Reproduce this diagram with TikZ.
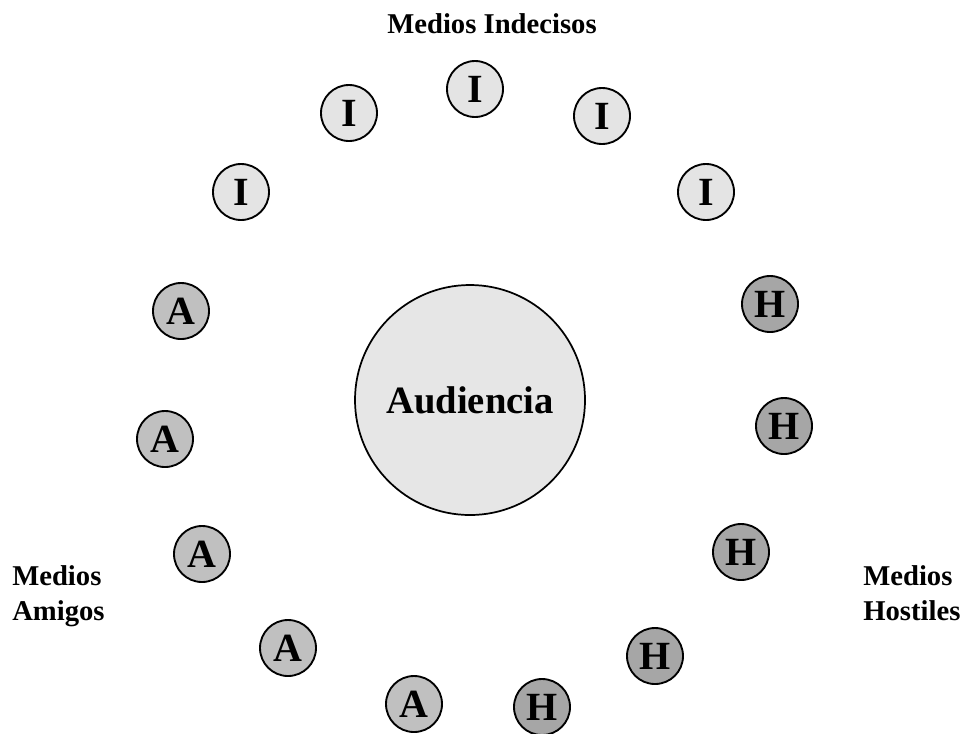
\documentclass[tikz,border=0pt]{standalone}
\usepackage{fontspec}
\setmainfont{Liberation Serif}
\definecolor{indecfill}{HTML}{E4E4E4}
\definecolor{amigfill}{HTML}{C0C0C0}
\definecolor{hostfill}{HTML}{A6A6A6}
\definecolor{audfill}{HTML}{E6E6E6}
\tikzset{
  medio/.style={circle, draw=black, line width=1.4pt, minimum size=42pt, inner sep=0pt,
    font=\fontsize{30}{30}\selectfont\bfseries},
  indec/.style={medio, fill=indecfill},
  amig/.style={medio, fill=amigfill},
  host/.style={medio, fill=hostfill},
  audbox/.style={circle, draw=black, line width=1.3pt, minimum size=172.5pt, inner sep=0pt,
    fill=audfill, font=\fontsize{29}{29}\selectfont\bfseries},
  grouplabel/.style={inner sep=0pt, align=left, font=\fontsize{21.5}{26.25}\selectfont\bfseries}
}
\begin{document}
\begin{tikzpicture}[x=0.75pt,y=-0.75pt]
\useasboundingbox (0,0) rectangle (966,733);
% central audience
\node[audbox] (aud) at (470,400) {Audiencia};
% undecided media
\node[indec] (i0) at (475,89) {I};
\node[indec] (i1) at (349,113) {I};
\node[indec] (i2) at (602,116) {I};
\node[indec] (i3) at (241,192) {I};
\node[indec] (i4) at (706,192) {I};
% friendly media
\node[amig] (a1) at (181,311) {A};
\node[amig] (a2) at (165,439) {A};
\node[amig] (a3) at (202,554) {A};
\node[amig] (a4) at (288,648) {A};
\node[amig] (a5) at (414,704) {A};
% hostile media
\node[host] (h1) at (770,304) {H};
\node[host] (h2) at (784,426) {H};
\node[host] (h3) at (741,552) {H};
\node[host] (h4) at (655,656) {H};
\node[host] (h5) at (542,707) {H};
% group labels
\node[grouplabel, anchor=base] (lindec) at (492,33) {Medios Indecisos};
\node[grouplabel, anchor=north west] (lamig) at (12,565) {Medios\\Amigos};
\node[grouplabel, anchor=north west] (lhost) at (863,565) {Medios\\Hostiles};
\end{tikzpicture}
\end{document}
